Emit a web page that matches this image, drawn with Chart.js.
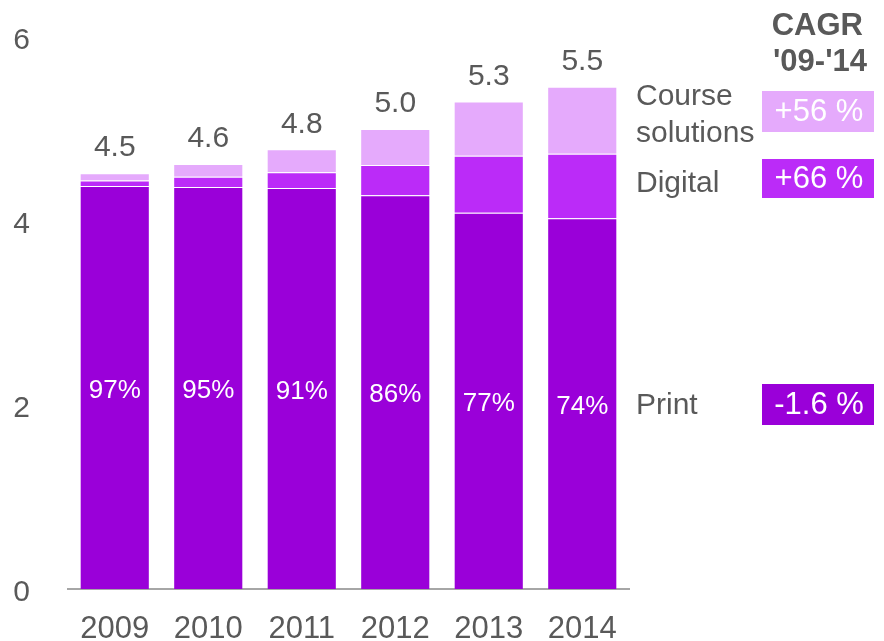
<!DOCTYPE html>
<html>
<head>
<meta charset="utf-8">
<script src="https://cdn.jsdelivr.net/npm/chart.js@4"></script>
<style>
    body { margin: 0; background: #fff; }
    #wrap { width: 884px; height: 641px; }
</style>
</head>
<body>
<div id="wrap"><canvas id="revChart" width="884" height="641"></canvas></div>
<script>
// data
const years = ['2009', '2010', '2011', '2012', '2013', '2014'];
const printVals = [4.38, 4.37, 4.36, 4.28, 4.09, 4.03];
const digitalVals = [0.06, 0.11, 0.17, 0.33, 0.62, 0.70];
const courseVals = [0.08, 0.14, 0.25, 0.39, 0.59, 0.73];
const totalLabels = ['4.5', '4.6', '4.8', '5.0', '5.3', '5.5'];
const printShare = ['97%', '95%', '91%', '86%', '77%', '74%'];
const yTicks = [0, 2, 4, 6];

// side panel
const segNames = [['Course', 'solutions'], ['Digital'], ['Print']];
const cagrLabels = ['+56 %', '+66 %', '-1.6 %'];

const COL_PRINT = '#9a00d9';
const COL_DIGITAL = '#bb2bf8';
const COL_COURSE = '#e5aafc';
const TXT = '#595959';
const FONT = '"Liberation Sans", Arial, sans-serif';

// labels on the bars
const barLabels = {
    id: 'barLabels',
    afterDatasetsDraw(chart) {
        const ctx = chart.ctx;
        const topMeta = chart.getDatasetMeta(2);
        const printMeta = chart.getDatasetMeta(0);
        ctx.save();
        ctx.textAlign = 'center';
        ctx.textBaseline = 'middle';
        topMeta.data.forEach((bar, i) => {
            ctx.fillStyle = TXT;
            ctx.font = '30px ' + FONT;
            ctx.fillText(totalLabels[i], bar.x, bar.y - 25);
        });
        printMeta.data.forEach((bar, i) => {
            ctx.fillStyle = '#ffffff';
            ctx.font = '26px ' + FONT;
            ctx.fillText(printShare[i], bar.x, (bar.y + bar.base) / 2 + 3);
        });
        ctx.restore();
    }
};

// legend text + CAGR boxes on the right
const sidePanel = {
    id: 'sidePanel',
    afterDraw(chart) {
        const ctx = chart.ctx;
        ctx.save();
        ctx.textBaseline = 'middle';

        ctx.fillStyle = TXT;
        ctx.font = 'bold 31px ' + FONT;
        ctx.textAlign = 'right';
        ctx.fillText('CAGR', 863, 26);
        ctx.fillText("'09-'14", 867, 62);

        const boxTop = [91, 159, 384];
        const boxH = [41, 39, 41];
        const textY = [[97, 134], [184], [406]];
        const boxCol = [COL_COURSE, COL_DIGITAL, COL_PRINT];
        for (let k = 0; k < 3; k++) {
            ctx.textAlign = 'left';
            ctx.fillStyle = TXT;
            ctx.font = '30px ' + FONT;
            segNames[k].forEach((line, j) => ctx.fillText(line, 636, textY[k][j]));

            ctx.fillStyle = boxCol[k];
            ctx.fillRect(762, boxTop[k], 112, boxH[k]);
            ctx.fillStyle = '#ffffff';
            ctx.font = '31px ' + FONT;
            ctx.textAlign = 'center';
            ctx.fillText(cagrLabels[k], 819, boxTop[k] + boxH[k] / 2 + 1);
        }
        ctx.restore();
    }
};

const ctx = document.getElementById('revChart').getContext('2d');
const chart = new Chart(ctx, {
    type: 'bar',
    data: {
        labels: years,
        datasets: [
            { label: 'Print', data: printVals, backgroundColor: COL_PRINT, borderColor: 'rgba(255,255,255,0.12)', borderWidth: 1 },
            { label: 'Digital', data: digitalVals, backgroundColor: COL_DIGITAL, borderColor: 'rgba(255,255,255,0.18)', borderWidth: 1 },
            { label: 'Course solutions', data: courseVals, backgroundColor: COL_COURSE, borderColor: 'rgba(255,255,255,0.3)', borderWidth: 1 }
        ]
    },
    options: {
        responsive: false,
        animation: false,
        devicePixelRatio: 1,
        layout: { padding: { top: 37, right: 255, left: 0, bottom: 0 } },
        datasets: { bar: { barPercentage: 0.75, categoryPercentage: 1 } },
        scales: {
            x: {
                stacked: true,
                grid: { display: false },
                border: { display: true, color: '#a6a6a6', width: 2 },
                ticks: { color: TXT, font: { size: 31, family: FONT }, padding: 14, maxRotation: 0 },
                afterFit(scale) {
                    scale.height = 52;
                    scale.paddingLeft = 0;
                    scale.paddingRight = 0;
                }
            },
            y: {
                stacked: true,
                min: 0,
                max: 6,
                afterBuildTicks(scale) { scale.ticks = yTicks.map(v => ({ value: v })); },
                grid: { display: false },
                border: { display: false },
                ticks: { color: TXT, font: { size: 30, family: FONT }, padding: 30, labelOffset: 4 },
                afterFit(scale) {
                    scale.width = 68;
                    scale.paddingTop = 0;
                    scale.paddingBottom = 0;
                }
            }
        },
        plugins: {
            legend: { display: false },
            tooltip: { enabled: false }
        }
    },
    plugins: [barLabels, sidePanel]
});
</script>
</body>
</html>
